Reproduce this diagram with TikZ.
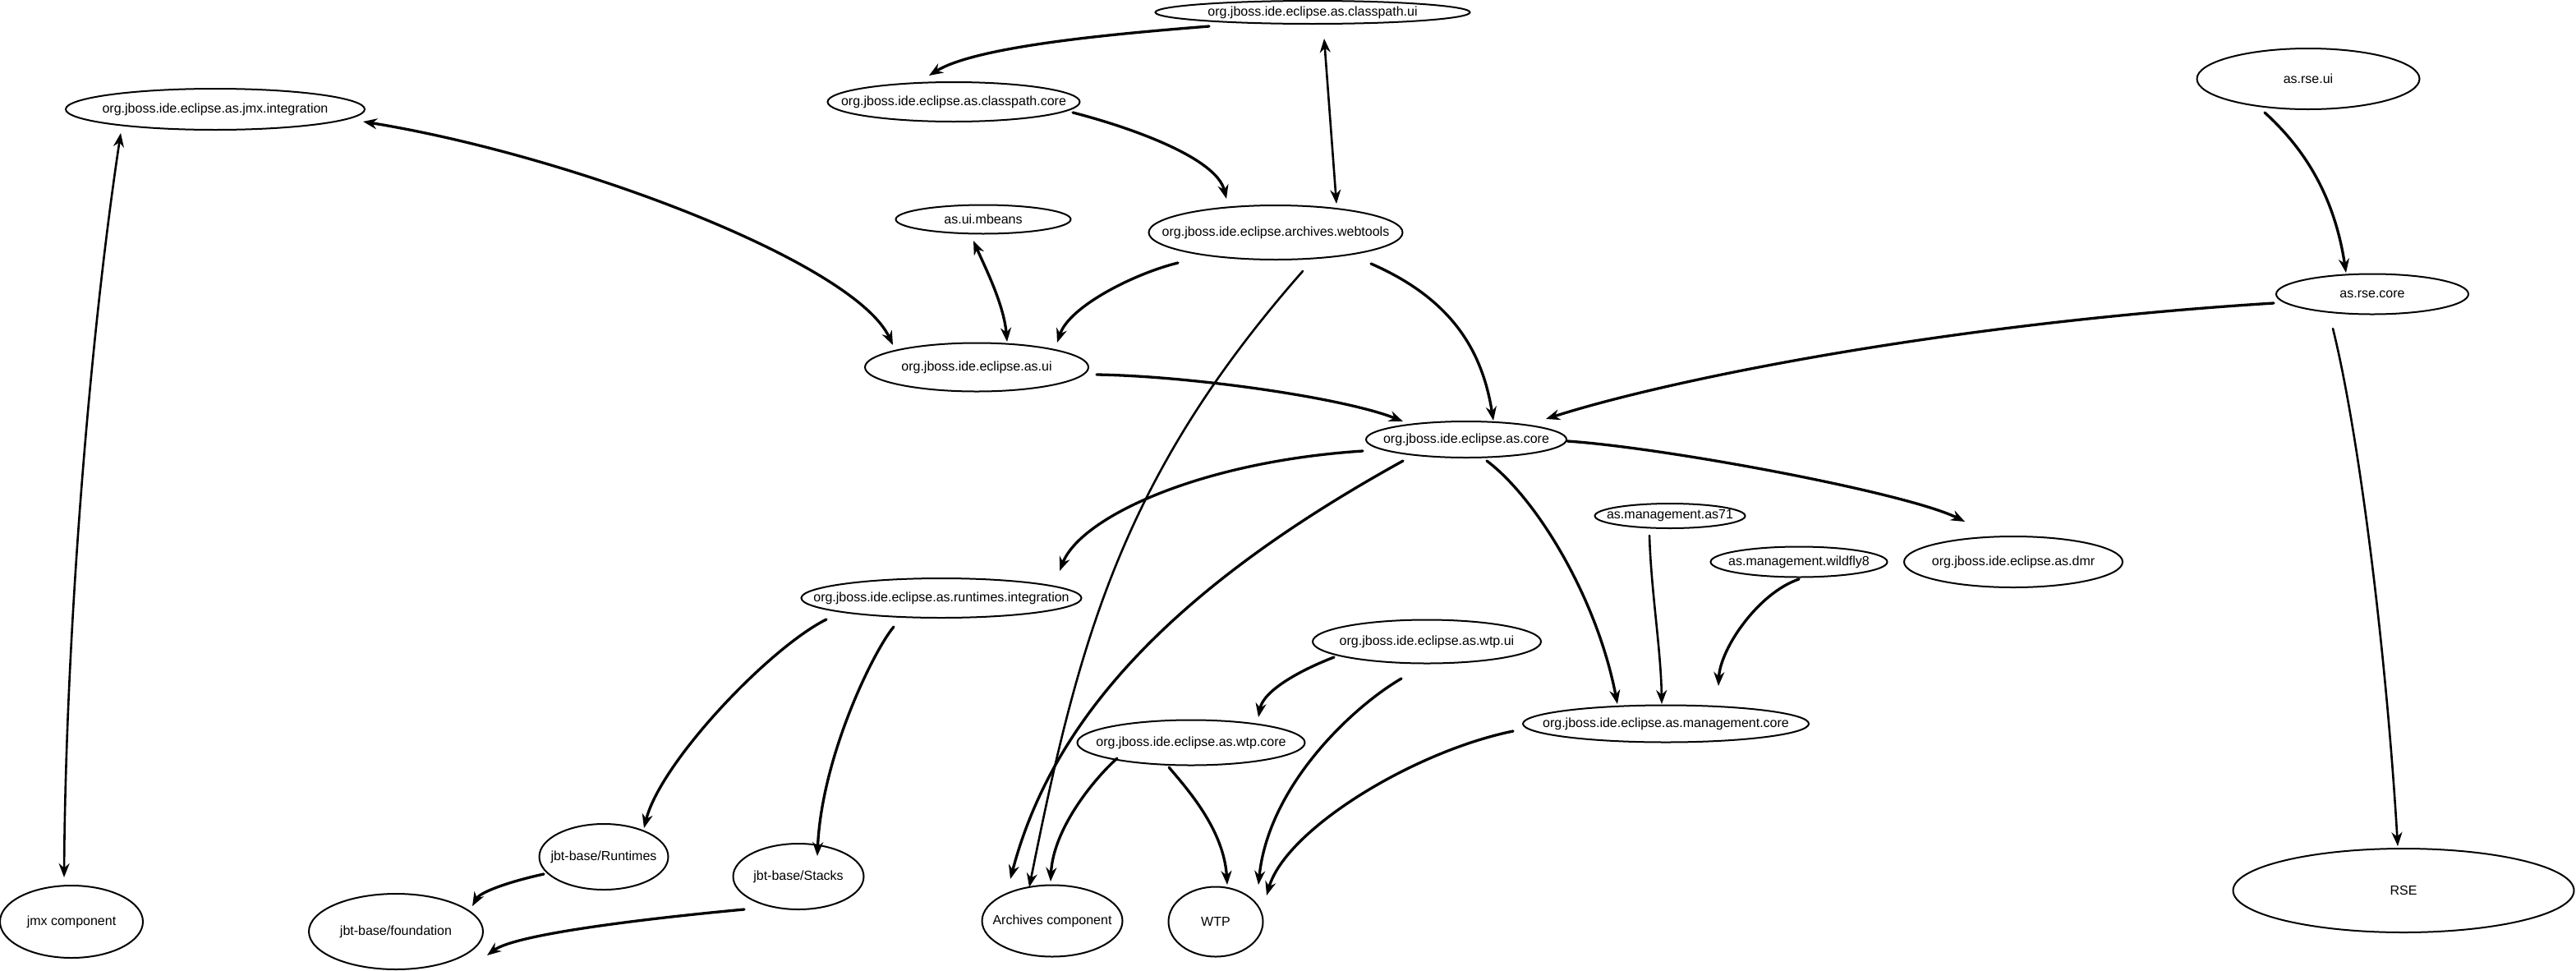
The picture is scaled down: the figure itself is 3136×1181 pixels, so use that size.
\documentclass[tikz,border=0pt]{standalone}
\usepackage{fontspec}
\setmainfont{Liberation Sans}
\usetikzlibrary{shapes.geometric,arrows.meta}
\tikzset{
  bub/.style={ellipse, draw, line width=2pt, inner sep=0pt, font=\fontsize{16}{19}\selectfont},
  tip/.tip={Stealth[length=17pt,width=13pt]},
  edge/.style={line width=3.3pt, line cap=round, -tip},
  biedge/.style={line width=3.3pt, line cap=round, tip-tip},
  slim/.style={line width=2.6pt}
}
\newcommand{\lbl}[1]{\makebox[0pt]{#1}}
\begin{document}
\begin{tikzpicture}[x=1pt,y=-1pt]
\useasboundingbox (0,0) rectangle (3136,1181);
% nodes
\node[bub, minimum width=383, minimum height=28] (cpui) at (1598,15) {\lbl{org.jboss.ide.eclipse.as.classpath.ui}};
\node[bub, minimum width=364, minimum height=50] (jmxint) at (262,133) {\lbl{org.jboss.ide.eclipse.as.jmx.integration}};
\node[bub, minimum width=307, minimum height=48] (cpcore) at (1161,124) {\lbl{org.jboss.ide.eclipse.as.classpath.core}};
\node[bub, minimum width=213, minimum height=35] (mbeans) at (1197,267) {\lbl{as.ui.mbeans}};
\node[bub, minimum width=309, minimum height=66] (webtools) at (1553,283) {\lbl{org.jboss.ide.eclipse.archives.webtools}};
\node[bub, minimum width=272, minimum height=59] (asui) at (1189,447) {\lbl{org.jboss.ide.eclipse.as.ui}};
\node[bub, minimum width=271, minimum height=74] (rseui) at (2810,96) {\lbl{as.rse.ui}};
\node[bub, minimum width=234, minimum height=49] (rsecore) at (2888,358) {\lbl{as.rse.core}};
\node[bub, minimum width=244, minimum height=44] (core) at (1785,535) {\lbl{org.jboss.ide.eclipse.as.core}};
\node[bub, minimum width=183, minimum height=30] (as71) at (2033,628) {\lbl{as.management.as71}};
\node[bub, minimum width=215, minimum height=37] (wf8) at (2190,684) {\lbl{as.management.wildfly8}};
\node[bub, minimum width=266, minimum height=62] (dmr) at (2451,684) {\lbl{org.jboss.ide.eclipse.as.dmr}};
\node[bub, minimum width=341, minimum height=48] (rtint) at (1146,728) {\lbl{org.jboss.ide.eclipse.as.runtimes.integration}};
\node[bub, minimum width=278, minimum height=53] (wtpui) at (1737,781) {\lbl{org.jboss.ide.eclipse.as.wtp.ui}};
\node[bub, minimum width=277, minimum height=55] (wtpcore) at (1450,904) {\lbl{org.jboss.ide.eclipse.as.wtp.core}};
\node[bub, minimum width=348, minimum height=45] (mgmt) at (2028,881) {\lbl{org.jboss.ide.eclipse.as.management.core}};
\node[bub, minimum width=157, minimum height=80] (jbtrt) at (735,1043) {\lbl{jbt-base/Runtimes}};
\node[bub, minimum width=159, minimum height=80] (jbtst) at (972,1067) {\lbl{jbt-base/Stacks}};
\node[bub, minimum width=212, minimum height=92] (jbtfd) at (482,1134) {\lbl{jbt-base/foundation}};
\node[bub, minimum width=174, minimum height=88] (jmxc) at (87,1122) {\lbl{jmx component}};
\node[bub, minimum width=171, minimum height=87] (arch) at (1281,1121) {\lbl{Archives component}};
\node[bub, minimum width=115, minimum height=85] (wtp) at (1480,1122) {\lbl{WTP}};
\node[bub, minimum width=415, minimum height=102] (rse) at (2926,1084) {\lbl{RSE}};
% connectors
\draw[edge] ([shift={(-126,17)}]cpui.center) .. controls (1372,40) and (1190,55) .. ([shift={(-30,-32)}]cpcore.center);
\draw[biedge,slim] ([shift={(14,32)}]cpui.center) .. controls (1617,114) and (1622,181) .. ([shift={(74,-35)}]webtools.center);
\draw[edge] ([shift={(145,13)}]cpcore.center) .. controls (1376,155) and (1481,192) .. ([shift={(-60,-41)}]webtools.center);
\draw[biedge] ([shift={(180,15)}]jmxint.center) .. controls (700,190) and (1040,320) .. ([shift={(-102,-27)}]asui.center);
\draw[biedge,slim] ([shift={(-115,29)}]jmxint.center) .. controls (108,420) and (80,780) .. ([shift={(-9,-54)}]jmxc.center);
\draw[biedge] ([shift={(-12,26)}]mbeans.center) .. controls (1199,325) and (1222,370) .. ([shift={(37,-31)}]asui.center);
\draw[edge] ([shift={(-119,37)}]webtools.center) .. controls (1384,332) and (1302,372) .. ([shift={(98,-30)}]asui.center);
\draw[edge,slim] ([shift={(33,47)}]webtools.center) .. controls (1366,580) and (1313,780) .. ([shift={(-28,-41)}]arch.center);
\draw[edge] ([shift={(116,38)}]webtools.center) .. controls (1770,365) and (1805,430) .. ([shift={(33,-23)}]core.center);
\draw[edge] ([shift={(146,9)}]asui.center) .. controls (1455,458) and (1638,485) .. ([shift={(-77,-22)}]core.center);
\draw[edge] ([shift={(-53,41)}]rseui.center) .. controls (2801,177) and (2841,233) .. ([shift={(-32,-26)}]rsecore.center);
\draw[edge] ([shift={(-120,11)}]rsecore.center) .. controls (2368,394) and (2032,462) .. ([shift={(97,-25)}]core.center);
\draw[edge,slim] ([shift={(-48,42)}]rsecore.center) .. controls (2870,520) and (2904,780) .. ([shift={(-7,-54)}]rse.center);
\draw[edge] ([shift={(-126,14)}]core.center) .. controls (1460,562) and (1315,630) .. ([shift={(144,-33)}]rtint.center);
\draw[edge] ([shift={(-77,26)}]core.center) .. controls (1420,720) and (1280,880) .. ([shift={(-51,-51)}]arch.center);
\draw[edge] ([shift={(25,26)}]core.center) .. controls (1870,606) and (1944,727) .. ([shift={(-59,-24)}]mgmt.center);
\draw[edge] ([shift={(123,2)}]core.center) .. controls (2028,545) and (2322,600) .. ([shift={(-59,-49)}]dmr.center);
\draw[edge,slim] ([shift={(-25,24)}]as71.center) .. controls (2010,720) and (2022,790) .. ([shift={(-5,-24)}]mgmt.center);
\draw[edge] ([shift={(0,21)}]wf8.center) .. controls (2140,722) and (2094,790) .. ([shift={(64,-46)}]mgmt.center);
\draw[edge] ([shift={(-140,26)}]rtint.center) .. controls (936,789) and (804,928) .. ([shift={(49,-35)}]jbtrt.center);
\draw[edge] ([shift={(-58,35)}]rtint.center) .. controls (1063,793) and (1000,922) .. ([shift={(23,-25)}]jbtst.center);
\draw[edge] ([shift={(-73,21)}]jbtrt.center) .. controls (625,1072) and (585,1085) .. ([shift={(93,-31)}]jbtfd.center);
\draw[edge] ([shift={(-66,40)}]jbtst.center) .. controls (820,1115) and (630,1135) .. ([shift={(111,29)}]jbtfd.center);
\draw[edge] ([shift={(-113,19)}]wtpui.center) .. controls (1585,815) and (1538,840) .. ([shift={(82,-31)}]wtpcore.center);
\draw[edge] ([shift={(-31,45)}]wtpui.center) .. controls (1646,861) and (1544,957) .. ([shift={(52,-45)}]wtp.center);
\draw[edge] ([shift={(-90,19)}]wtpcore.center) .. controls (1330,950) and (1282,1010) .. ([shift={(-2,-48)}]arch.center);
\draw[edge] ([shift={(-27,30)}]wtpcore.center) .. controls (1445,960) and (1490,1010) .. ([shift={(14,-45)}]wtp.center);
\draw[edge] ([shift={(-186,9)}]mgmt.center) .. controls (1720,915) and (1565,1010) .. ([shift={(62,-32)}]wtp.center);
\end{tikzpicture}
\end{document}
